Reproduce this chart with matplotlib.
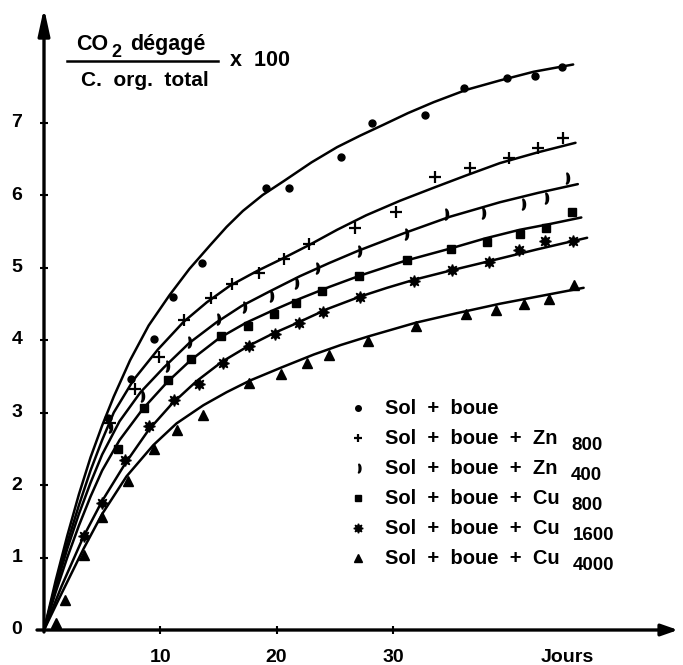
import numpy as np
import matplotlib
matplotlib.use("Agg")
import matplotlib.pyplot as plt

plt.rcParams.update({
    "font.family": ["Liberation Sans", "DejaVu Sans"],
    "mathtext.fontset": "custom", "mathtext.rm": "Liberation Sans",
})

# ---- data (days, CO2 / C org x 100) ----
sb_x = [5.5, 7.5, 9.5, 11.1, 13.6, 19.1, 21.1, 25.5, 28.2, 32.8, 36.1, 39.8, 42.2, 44.5]
sb_y = [2.92, 3.46, 4.02, 4.59, 5.06, 6.10, 6.10, 6.52, 7.00, 7.11, 7.48, 7.62, 7.64, 7.76]
sb_cx = [0, 1, 2, 3, 4, 5, 6, 7.4, 9, 10.8, 12.5, 14.3, 15.7, 17.1, 18.8, 20.6, 23, 25.2,
         27.2, 29.2, 31.3, 33.5, 36.3, 39.2, 42.1, 45.5]
sb_cy = [0, 0.68, 1.30, 1.87, 2.38, 2.82, 3.22, 3.72, 4.20, 4.62, 4.98, 5.31, 5.56, 5.78,
         6.00, 6.19, 6.45, 6.66, 6.82, 6.97, 7.13, 7.28, 7.45, 7.58, 7.70, 7.80]

zn8_x = [5.7, 7.8, 9.9, 12.0, 14.4, 16.2, 18.5, 20.6, 22.8, 26.7, 30.3, 33.6, 36.6, 40.0, 42.5, 44.6]
zn8_y = [2.85, 3.32, 3.77, 4.27, 4.58, 4.77, 4.93, 5.12, 5.32, 5.54, 5.76, 6.25, 6.37, 6.51, 6.65, 6.79]
zn8_cx = [0, 1, 2, 3, 4, 5, 6, 7.7, 9.8, 12, 14, 16, 18.3, 20.6, 22.8, 25.2, 27.7, 30.6,
          33.5, 36.3, 39.2, 42.5, 45.7]
zn8_cy = [0, 0.62, 1.20, 1.72, 2.20, 2.62, 3.00, 3.45, 3.87, 4.25, 4.52, 4.75, 4.95, 5.13,
          5.31, 5.52, 5.72, 5.92, 6.10, 6.27, 6.44, 6.59, 6.72]

zn4_x = [5.6, 8.3, 10.5, 12.4, 14.9, 17.1, 19.4, 21.6, 23.4, 27.0, 31.0, 34.5, 37.7, 41.1, 43.1, 44.9]
zn4_y = [2.80, 3.23, 3.64, 3.97, 4.29, 4.46, 4.61, 4.78, 4.99, 5.23, 5.46, 5.74, 5.75, 5.88, 5.96, 6.24]
zn4_cx = [0, 1, 2, 3, 4, 5, 6.5, 8.3, 10.3, 12.5, 14.8, 17, 19.4, 22, 24.5, 27, 30.9,
          34.9, 39.2, 42.5, 45.9]
zn4_cy = [0, 0.58, 1.12, 1.60, 2.03, 2.42, 2.88, 3.28, 3.62, 3.96, 4.24, 4.47, 4.67, 4.88,
          5.06, 5.23, 5.47, 5.70, 5.90, 6.03, 6.15]

cu8_x = [6.4, 8.6, 10.7, 12.6, 15.2, 17.5, 19.8, 21.7, 23.9, 27.1, 31.2, 35.0, 38.1, 40.9, 43.2, 45.4]
cu8_y = [2.49, 3.06, 3.45, 3.74, 4.06, 4.20, 4.36, 4.51, 4.68, 4.88, 5.10, 5.26, 5.35, 5.46, 5.54, 5.77]
cu8_cx = [0, 1, 2, 3, 4, 5, 6.5, 8.5, 10.6, 12.6, 15.1, 17.4, 19.7, 22, 24.5, 27.2, 31,
          34.9, 37.9, 40.9, 43.5, 46.2]
cu8_cy = [0, 0.52, 1.00, 1.44, 1.84, 2.20, 2.62, 3.05, 3.42, 3.72, 4.03, 4.24, 4.41, 4.57,
          4.73, 4.89, 5.09, 5.26, 5.40, 5.52, 5.60, 5.69]

cu16_x = [3.4, 5.0, 7.0, 9.0, 11.2, 13.3, 15.4, 17.6, 19.9, 21.9, 24.0, 27.2, 31.8, 35.1, 38.3, 40.8, 43.1, 45.5]
cu16_y = [1.29, 1.75, 2.35, 2.81, 3.17, 3.39, 3.68, 3.92, 4.08, 4.23, 4.39, 4.59, 4.82, 4.96, 5.07, 5.24, 5.37, 5.36]
cu16_cx = [0, 1.5, 3.4, 5, 7, 9, 11, 13.1, 15.3, 17.6, 19.7, 21.7, 24.4, 27.2, 29.5, 31.8,
           35, 38.1, 42.4, 46.7]
cu16_cy = [0, 0.60, 1.29, 1.78, 2.30, 2.76, 3.12, 3.43, 3.70, 3.92, 4.09, 4.23, 4.43, 4.60,
           4.72, 4.83, 4.96, 5.08, 5.25, 5.41]

cu40_x = [1.0, 1.8, 3.4, 5.0, 7.2, 9.5, 11.4, 13.7, 17.6, 20.4, 22.6, 24.5, 27.9, 32.0, 36.3, 38.9, 41.3, 43.4, 45.6]
cu40_y = [0.10, 0.41, 1.03, 1.56, 2.05, 2.49, 2.76, 2.97, 3.41, 3.53, 3.68, 3.79, 3.99, 4.19, 4.36, 4.42, 4.49, 4.57, 4.76]
cu40_cx = [0, 1.5, 3.4, 5, 7.1, 9.4, 11.4, 13.7, 15.7, 17.7, 20.4, 23.2, 25.5, 27.9, 32,
           35.5, 39.2, 42.8, 46.4]
cu40_cy = [0, 0.50, 1.12, 1.60, 2.12, 2.55, 2.85, 3.10, 3.28, 3.44, 3.62, 3.80, 3.93, 4.05,
           4.24, 4.37, 4.50, 4.61, 4.72]

labels = ["Sol  +  boue", "Sol  +  boue  +  Zn", "Sol  +  boue  +  Zn", "Sol  +  boue  +  Cu",
          "Sol  +  boue  +  Cu", "Sol  +  boue  +  Cu"]
subs = ["", "800", "400", "800", "1600", "4000"]

# crescent marker for Zn 400
t = np.linspace(np.pi/2, -np.pi/2, 20)
outer = np.column_stack([0.55*np.cos(t), np.sin(t)])
inner = np.column_stack([0.15*np.cos(t[::-1]), 0.85*np.sin(t[::-1])])
moon = np.vstack([outer, inner])
styles = [dict(marker="o", ms=5),
          dict(marker="+", ms=8, mew=1.6),
          dict(marker=moon, ms=8),
          dict(marker="s", ms=5.5),
          dict(marker=(8, 1, 0), ms=8.5),
          dict(marker="^", ms=6.5)]
pts = [(sb_x, sb_y), (zn8_x, zn8_y), (zn4_x, zn4_y), (cu8_x, cu8_y), (cu16_x, cu16_y), (cu40_x, cu40_y)]
crv = [(sb_cx, sb_cy), (zn8_cx, zn8_cy), (zn4_cx, zn4_cy), (cu8_cx, cu8_cy), (cu16_cx, cu16_cy), (cu40_cx, cu40_cy)]

PX, PY = 11.63, 72.5          # pixels per day / per unit
fig = plt.figure(figsize=(6.83, 6.65), dpi=100)
ax = fig.add_axes([0, 0, 1, 1])
ax.set_xlim(-44/PX, 639/PX); ax.set_ylim(-35/PY, 630/PY)
ax.axis("off")

for (cx, cy), (x, y), st in zip(crv, pts, styles):
    ax.plot(cx, cy, color="black", lw=1.8, solid_capstyle="round", solid_joinstyle="round")
    ax.plot(x, y, ls="none", color="black", mec="black", **st)

# axes with arrows
ax.annotate("", xy=(634/PX, 0), xytext=(-7/PX, 0),
            arrowprops=dict(arrowstyle="-|>,head_length=1.0,head_width=0.35", lw=2.4,
                            color="black", shrinkA=0, shrinkB=0))
ax.annotate("", xy=(0, 622/PY), xytext=(0, -2/PY),
            arrowprops=dict(arrowstyle="-|>,head_length=1.6,head_width=0.35", lw=2.4,
                            color="black", shrinkA=0, shrinkB=0))

yt = [1, 2, 3, 4, 5, 6, 7]
xt = [10, 20, 30]
ax.hlines(yt, -4/PX, 4/PX, color="black", lw=1.5)
ax.vlines(xt, -4/PY, 4/PY, color="black", lw=1.5)
for v in [0] + yt:
    ax.text(-27/PX, v, str(v), ha="center", va="center", fontsize=14, fontweight="bold")
for v in xt:
    ax.text(v, -27/PY, str(v), ha="center", va="center", fontsize=14, fontweight="bold")
ax.text(45.0, -27/PY, "Jours", ha="center", va="center", fontsize=14, fontweight="bold")

# y label as a fraction
ax.text(32/PX, (630-50)/PY, "CO", ha="left", va="baseline", fontsize=15.5, fontweight="bold")
ax.text(67/PX, (630-57)/PY, "2", ha="left", va="baseline", fontsize=13, fontweight="bold")
ax.text(86/PX, (630-50)/PY, "dégagé", ha="left", va="baseline", fontsize=15.5, fontweight="bold")
ax.plot([23/PX, 174/PX], [(630-61)/PY]*2, color="black", lw=1.8)
ax.text(101/PX, (630-81)/PY, "C.  org.  total", ha="center", va="center", fontsize=15, fontweight="bold")
ax.text(186/PX, (630-61)/PY, "x  100", ha="left", va="center", fontsize=15.5, fontweight="bold")

# legend
for i, (lab, sub, st) in enumerate(zip(labels, subs, styles)):
    yy = (630 - 408 - 30*i)/PY
    s = dict(st); s["ms"] = s["ms"]*0.8
    ax.plot([314/PX], [yy], ls="none", color="black", **s)
    ax.text(341/PX, yy, lab, ha="left", va="center", fontsize=14.5, fontweight="bold")
    if sub:
        ax.text((527 + 2*(len(sub) > 3))/PX, yy - 8/PY, sub, ha="left", va="center",
                fontsize=13.5, fontweight="bold")

fig.savefig("out.png", dpi=100)
